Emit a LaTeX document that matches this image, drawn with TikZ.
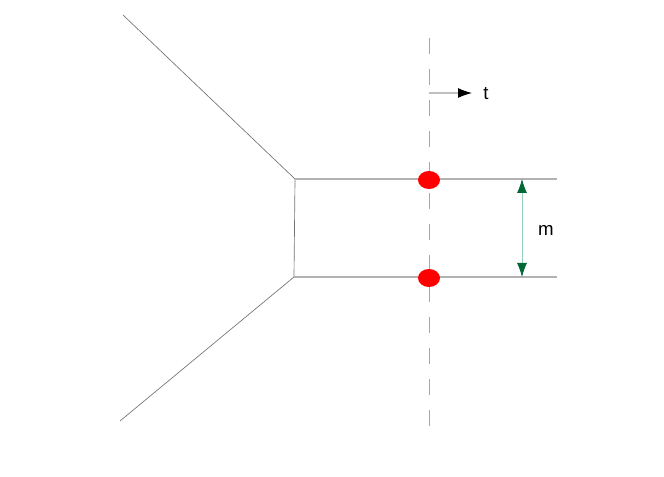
\documentclass[tikz,border=0pt]{standalone}
\usepackage{fontspec}
\setmainfont{Liberation Sans}
\usetikzlibrary{arrows.meta,shapes.geometric}
\definecolor{dkgreen}{RGB}{0,104,55}
\definecolor{ltgreen}{RGB}{150,205,185}
\begin{document}
\begin{tikzpicture}[x=0.75pt,y=-0.75pt]
\tikzstyle{edge} = [draw, black!55, line width=0.5pt]
\tikzstyle{rail} = [draw, black!30, line width=0.8pt]
\tikzstyle{dot} = [ellipse, fill=red, minimum width=16.5pt, minimum height=13.5pt, inner sep=0pt]
\tikzstyle{lbl} = [inner sep=0pt, font=\fontsize{14}{16}\selectfont]

\useasboundingbox (0,0) rectangle (664,477);

\coordinate (TopEnd) at (123,15);
\coordinate (BotEnd) at (120,421);
\coordinate (Upper) at (295,179);
\coordinate (Lower) at (294,277);
\coordinate (UpperR) at (557,179);
\coordinate (LowerR) at (557,277);
\coordinate (CutTop) at (429,38);
\coordinate (CutBot) at (429,430);
\coordinate (DirA) at (429,93);
\coordinate (DirB) at (472,93);
\coordinate (GapA) at (522,179);
\coordinate (GapB) at (522,277);

\path[edge] (TopEnd) -- (Upper) -- (Lower) -- (BotEnd);
\path[rail] (Upper) -- (UpperR);
\path[rail] (Lower) -- (LowerR);
\draw[black!35, line width=0.7pt, dash pattern=on 12pt off 11.25pt] (CutTop) -- (CutBot);

\node[dot] (DotU) at (429,180) {};
\node[dot] (DotL) at (429,278) {};

\draw[black!25, line width=0.8pt, -{Latex[black, length=10.5pt, width=7.5pt]}] (DirA) -- (DirB);
\node[lbl] (t) at (486,94) {t};

\draw[ltgreen, line width=0.6pt, {Latex[dkgreen, length=10.5pt, width=7.5pt]}-{Latex[dkgreen, length=10.5pt, width=7.5pt]}] (GapA) -- (GapB);
\node[lbl] (m) at (546,230) {m};

\end{tikzpicture}
\end{document}
